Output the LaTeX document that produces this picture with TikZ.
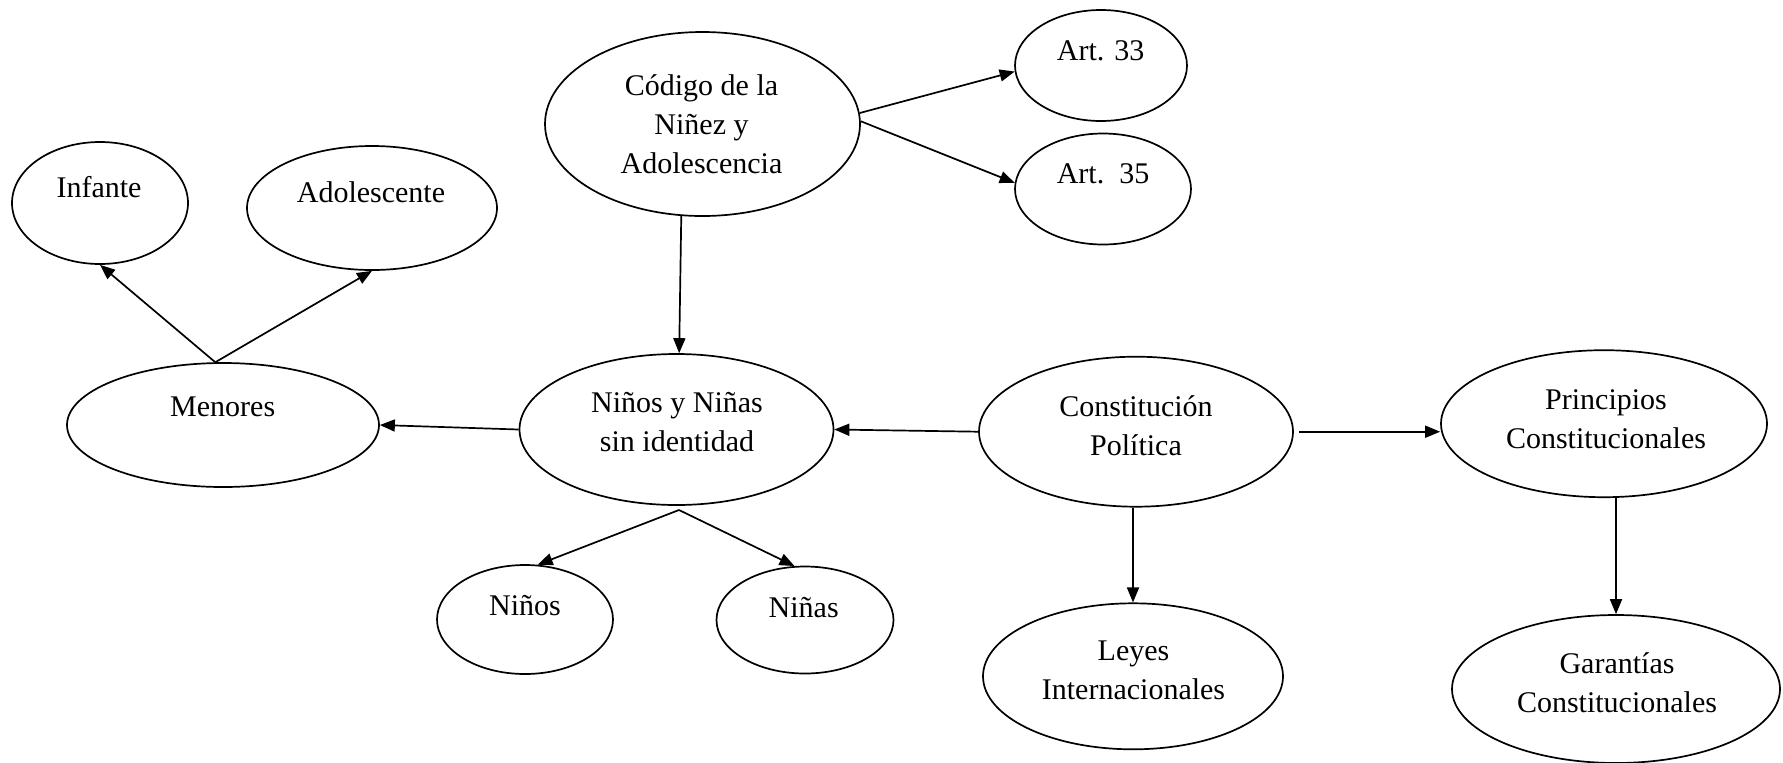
\documentclass[tikz,border=0pt]{standalone}
\usepackage{fontspec}
\setmainfont{Liberation Serif}
\usetikzlibrary{shapes.geometric,arrows.meta,calc}
\begin{document}
\begin{tikzpicture}[x=0.5pt,y=-0.5pt,
  ell/.style={draw,ellipse,line width=0.85pt,inner sep=0pt},
  txt/.style={align=center,inner sep=0pt,font=\fontsize{15}{19.5}\selectfont},
  arr/.style={line width=0.85pt,-{Triangle[length=7.5pt,width=6pt]}}]
\useasboundingbox (0,0) rectangle (1783,762);
% ellipses
\node[ell,minimum width=88pt,minimum height=61pt] (infante) at (100,203) {};
\node[ell,minimum width=125pt,minimum height=62pt] (adol) at (372,208) {};
\node[ell,minimum width=157.5pt,minimum height=92pt] (codigo) at (702.5,124) {};
\node[ell,minimum width=86pt,minimum height=55.5pt] (art33) at (1101,65.5) {};
\node[ell,minimum width=88pt,minimum height=55.5pt] (art35) at (1103,189) {};
\node[ell,minimum width=156pt,minimum height=62pt] (menores) at (223,425) {};
\node[ell,minimum width=157pt,minimum height=75.5pt] (nyn) at (676.5,429.5) {};
\node[ell,minimum width=88pt,minimum height=54.5pt] (ninos) at (525,619.5) {};
\node[ell,minimum width=88.5pt,minimum height=53.5pt] (ninas) at (805,620) {};
\node[ell,minimum width=157pt,minimum height=75pt] (const) at (1136,431.7) {};
\node[ell,minimum width=163pt,minimum height=73.5pt] (prin) at (1604,423.7) {};
\node[ell,minimum width=150pt,minimum height=73pt] (leyes) at (1133,676.3) {};
\node[ell,minimum width=164pt,minimum height=74pt] (gar) at (1616,689) {};
% texts
\node[txt] (t-infante) at (99,187) {Infante};
\node[txt] (t-adol) at (371,192) {Adolescente};
\node[txt] (t-codigo) at (701.5,124) {Código de la\\Niñez y\\Adolescencia};
\node[txt] (t-art33) at (1100.6,51) {Art. 33};
\node[txt] (t-art35) at (1103,174) {Art.\ \ 35};
\node[txt] (t-menores) at (222.7,407) {Menores};
\node[txt] (t-nyn) at (677,422) {Niños y Niñas\\sin identidad};
\node[txt] (t-ninos) at (525,606) {Niños};
\node[txt] (t-ninas) at (803.7,607.5) {Niñas};
\node[txt] (t-const) at (1136,426) {Constitución\\Política};
\node[txt] (t-prin) at (1606,419) {Principios\\Constitucionales};
\node[txt] (t-leyes) at (1133.5,670) {Leyes\\Internacionales};
\node[txt] (t-gar) at (1617,683) {Garantías\\Constitucionales};
% connectors
\draw[arr] (menores.97) -- (infante.south);
\draw[arr] (menores.97) -- (adol.south);
\draw[arr] (codigo.257) -- (nyn.88);
\draw[arr] (codigo.4) -- (art33.184);
\draw[arr] (codigo.1) -- (art35.176);
\draw[arr] (nyn.west) -- (menores.east);
\draw[arr] (const.west) -- (nyn.east);
\coordinate (split) at (679,510);
\draw[arr] (split) -- (ninos.77);
\draw[arr] (split) -- (ninas.101);
\draw[arr] ([xshift=2.5pt]const.east) -- (const.east -| prin.west);
\draw[arr] (leyes.north |- const.south) -- (leyes.north);
\draw[arr] (gar.north |- prin.south) -- (gar.north);
\end{tikzpicture}
\end{document}
